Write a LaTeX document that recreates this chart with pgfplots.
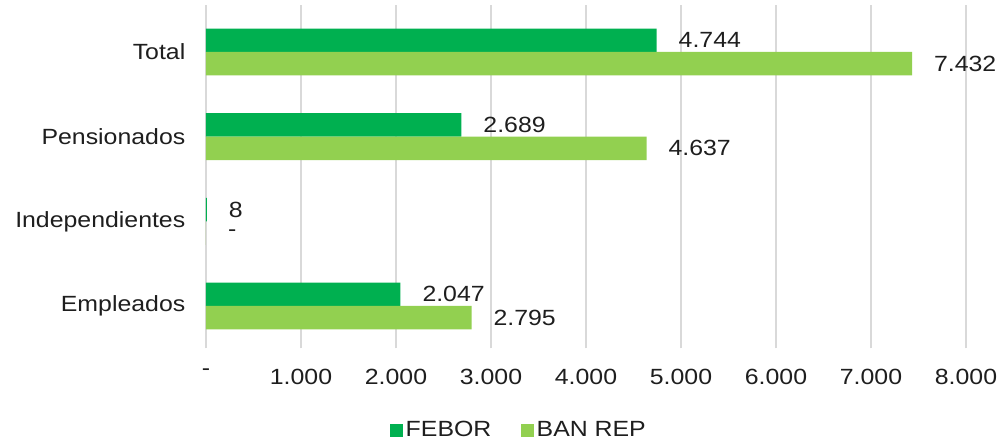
\documentclass[border=0pt]{standalone}
\usepackage{fontspec}
\setmainfont[FakeStretch=1.13]{Liberation Sans}
\usepackage{pgfplots}
\pgfplotsset{compat=1.18}

\definecolor{febor}{RGB}{0,176,80}
\definecolor{banrep}{RGB}{146,208,80}
\definecolor{gridc}{RGB}{217,217,217}
\definecolor{txt}{RGB}{30,30,30}

\newcommand{\lblfont}{\fontsize{16.5}{18}\selectfont}

\begin{document}
\begin{tikzpicture}
\useasboundingbox (-154.5pt,-70.5pt) rectangle (594.75pt,261.25pt);
\begin{axis}[
    at={(0pt,0pt)}, anchor=south west,
    scale only axis,
    width=570pt, height=257.2pt,
    xbar, bar width=17.6pt,
    xmin=0, xmax=8000, ymin=-0.5, ymax=3.55,
    xtick={0,1000,...,8000},
    xticklabels={-,1.000,2.000,3.000,4.000,5.000,6.000,7.000,8.000},
    ytick={0,1,2,3},
    yticklabels={Empleados,Independientes,Pensionados,Total},
    /pgf/number format/assume math mode=true,
    axis line style={draw=none},
    xmajorgrids, grid style={gridc, line width=0.8pt},
    major tick length=0pt,
    tick label style={font=\lblfont, text=txt},
    yticklabel style={xshift=-12pt},
    xticklabel style={yshift=-12pt},
    point meta=explicit symbolic,
    nodes near coords,
    every node near coord/.append style={font=\lblfont, text=txt, anchor=west, xshift=13pt},
    legend columns=2,
    legend style={at={(0.412,-0.239)}, anchor=center, draw=none, fill=none,
        font=\lblfont, text=txt,
        /tikz/every even column/.append style={column sep=20pt}},
    legend image code/.code={\fill[#1] (-2pt,-5pt) rectangle (8pt,5pt);},
]
\addplot[fill=febor, draw=none, bar shift=8.8pt] coordinates {
    (2047,0) [2.047]
    (8,1) [8]
    (2689,2) [2.689]
    (4744,3) [4.744]
};
\addlegendentry{FEBOR}
\addplot[fill=banrep, draw=none, bar shift=-8.8pt] coordinates {
    (2795,0) [2.795]
    (0,1) [-]
    (4637,2) [4.637]
    (7432,3) [7.432]
};
\addlegendentry{BAN REP}
\end{axis}
\end{tikzpicture}
\end{document}
